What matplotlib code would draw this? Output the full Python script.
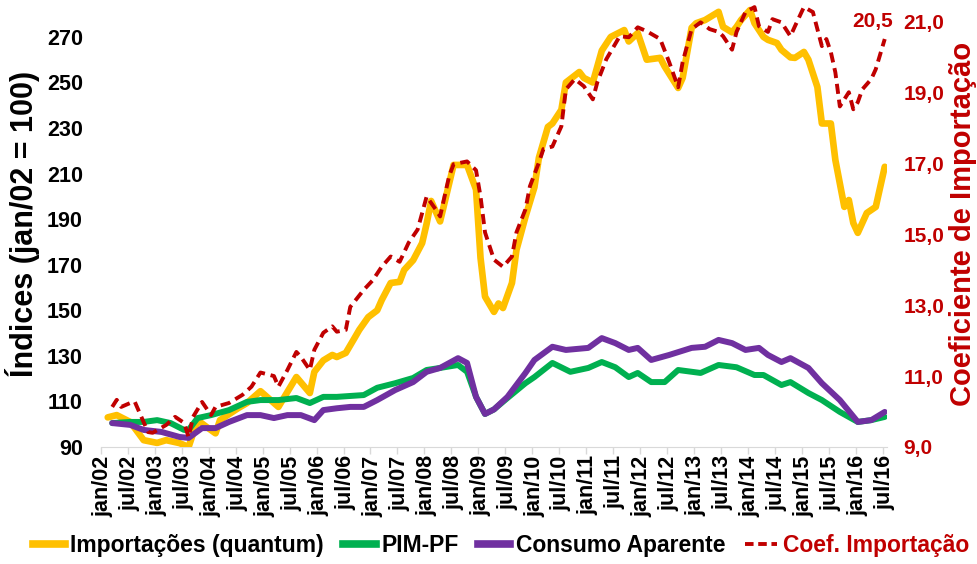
import matplotlib
matplotlib.use("Agg")
import matplotlib.pyplot as plt
from matplotlib.lines import Line2D
from matplotlib.ticker import FuncFormatter

plt.rcParams['font.family'] = ['Liberation Sans', 'DejaVu Sans']
plt.rcParams['font.weight'] = 'bold'
plt.rcParams['axes.labelweight'] = 'bold'

# month index: 0 = jan/02, 174 = jul/16
tick_labels = []
for y in range(2, 17):
    tick_labels.append(f"jan/{y:02d}")
    tick_labels.append(f"jul/{y:02d}")

imp_m = [1, 3, 6, 9, 12, 14, 17, 19, 21, 23, 25, 26, 30, 32, 35, 39, 43, 46, 47, 49,
         51, 52, 54, 56, 57, 59, 61, 62, 64, 66, 67, 69, 71, 72, 73, 75, 78, 81, 83, 84,
         85, 87, 88, 89, 91, 92, 94, 96, 97, 99, 100, 102, 103, 106, 107, 109, 111, 113, 116, 117,
         119, 121, 124, 125, 128, 129, 130, 131, 132, 134, 137, 138, 140, 141, 142, 144, 145, 147, 148, 150,
         151, 153, 154, 156, 157, 159, 160, 162, 163, 165, 166, 167, 168, 170, 172, 174]
imp_v = [103, 104, 101, 93, 91.8, 93, 91.7, 90, 101.8, 98.8, 96, 101.8, 107, 109.3, 114.5, 107.6, 120.7, 113.7, 123, 128,
         130.4, 129.5, 131.3, 138, 141.4, 147, 150, 154.5, 162, 162.5, 167.7, 172, 179.5, 188, 198, 189, 213.8, 213.8, 203, 173,
         156, 149.3, 153, 151, 162, 176.5, 191, 204, 217, 230.5, 232, 238, 250, 254.6, 252, 250, 264, 270, 273, 268,
         271.7, 260, 260.8, 257, 247.6, 252, 263, 274, 276, 277.4, 281, 274.4, 272, 274.4, 277.4, 281.8, 276, 270, 268.7, 267.3,
         264.3, 261, 260.8, 263.4, 260, 248, 232, 232, 216, 195.4, 198.4, 188.3, 184, 192.7, 195.4, 213]

pim_m = [2, 6, 9, 12, 15, 18, 19, 21, 24, 28, 32, 35, 39, 43, 46, 49, 52, 58, 61, 65,
         69, 72, 75, 79, 81, 83, 85, 87, 90, 94, 96, 100, 104, 108, 111, 114, 117, 119, 122, 125,
         128, 133, 137, 141, 145, 147, 151, 153, 157, 160, 164, 168, 171, 174]
pim_v = [100.5, 101, 101, 101.8, 100.5, 97.5, 97.5, 102.7, 104, 106.2, 109.8, 110.6, 110.6, 111.5, 109.3, 112, 112, 112.8, 116, 118,
         120.3, 123.8, 124.7, 126, 123, 112, 104.5, 106.5, 111.5, 118, 120.7, 126.9, 123, 124.7, 127.3, 125, 120.7, 122.5, 118.5, 118.5,
         123.8, 122.5, 126, 125, 121.6, 121.6, 117.2, 118.5, 113.7, 110.6, 105.4, 101, 101.8, 103.2]

cons_m = [2, 6, 9, 13, 17, 19, 22, 25, 28, 32, 35, 38, 41, 44, 47, 49, 52, 55, 58, 61,
          65, 69, 72, 75, 79, 81, 83, 85, 87, 90, 94, 96, 100, 103, 108, 111, 114, 117, 119, 122,
          126, 131, 134, 137, 140, 143, 146, 148, 151, 153, 157, 160, 164, 168, 171, 174]
cons_v = [100.5, 99.7, 97.5, 96.6, 94.4, 94, 98.3, 98.3, 101, 104, 104, 102.7, 104, 104, 101.8, 106.2, 107, 107.6, 107.6, 110.6,
          115, 118.5, 123, 124.7, 129, 126.9, 112, 104.5, 106.5, 112, 122.5, 128.2, 134, 132.6, 133.5, 137.8, 135.6, 132.6, 133.5, 128.2,
          130.4, 133.5, 134, 137, 135.6, 132.6, 133.5, 130.4, 127.3, 129, 124.7, 118, 110.6, 101, 101.8, 105.4]

coef_m = [2, 3, 4, 6, 7, 9, 10, 11, 14, 16, 18, 19, 20, 22, 24, 25, 28, 31, 33, 35,
          38, 39, 41, 43, 44, 46, 47, 49, 51, 52, 54, 55, 58, 60, 62, 64, 66, 68, 70, 72,
          74, 75, 77, 78, 81, 83, 84, 85, 87, 89, 91, 92, 94, 95, 97, 98, 100, 102, 103, 105,
          107, 109, 110, 112, 115, 117, 119, 121, 124, 126, 128, 129, 131, 133, 135, 137, 138, 140, 141, 143,
          145, 146, 148, 149, 151, 153, 154, 156, 158, 160, 161, 162, 163, 164, 166, 167, 168, 169, 171, 172, 174]
coef_v = [10.13, 10.33, 10.13, 10.24, 10.28, 9.7, 9.42, 9.4, 9.62, 9.85, 9.68, 9.28, 9.85, 10.27, 9.9, 10.13, 10.24, 10.47, 10.7, 11.1,
          11.0, 10.7, 11.17, 11.68, 11.54, 11.17, 11.74, 12.22, 12.4, 12.25, 12.3, 12.95, 13.43, 13.7, 14.08, 14.37, 14.22, 14.76, 15.13, 16.06,
          15.7, 15.5, 16.63, 16.97, 17.05, 16.8, 16.06, 15.05, 14.28, 14.08, 14.37, 15.05, 15.7, 16.35, 17.02, 17.4, 17.47, 18.04, 19.08, 19.37,
          19.17, 18.8, 19.28, 19.93, 20.58, 20.55, 20.83, 20.72, 20.5, 19.85, 19.14, 19.85, 20.78, 20.97, 20.78, 20.7, 20.58, 20.2, 20.7, 21.26,
          21.4, 20.86, 20.7, 21.06, 20.97, 20.58, 20.86, 21.4, 21.26, 20.3, 20.5, 20.13, 19.56, 18.6, 19.0, 18.52, 18.72, 19.08, 19.37, 19.65, 20.5]

ORANGE = '#FFC000'
GREEN = '#00B050'
PURPLE = '#7030A0'
RED = '#C00000'

fig = plt.figure(figsize=(9.78, 5.64), dpi=100)
ax = fig.add_axes([101 / 978, 117 / 564, 786 / 978, 447 / 564])
ax2 = ax.twinx()

ax.plot(imp_m, imp_v, color=ORANGE, lw=4.8, solid_joinstyle='round', solid_capstyle='round', zorder=3)
ax.plot(pim_m, pim_v, color=GREEN, lw=4.3, solid_joinstyle='round', solid_capstyle='round', zorder=4)
ax.plot(cons_m, cons_v, color=PURPLE, lw=4.3, solid_joinstyle='round', solid_capstyle='round', zorder=5)
ax2.plot(coef_m, coef_v, color=RED, lw=2.8, dashes=(2.6, 1.5), dash_capstyle='butt')

ax.set_xlim(-0.5, 174.5)
ax.set_ylim(90, 286.2)
ax2.set_ylim(9, 21.6)

ax.set_yticks(range(90, 271, 20))
ax2.set_yticks(range(9, 22, 2))
ax2.yaxis.set_major_formatter(FuncFormatter(lambda v, p: f"{v:.1f}".replace('.', ',')))

ax.set_xticks(range(0, 175, 6))
ax.set_xticklabels(tick_labels, rotation=90, fontsize=15.5)
ax.set_xticks([-0.5 + 6 * k for k in range(30)], minor=True)
ax.tick_params(axis='x', which='major', length=0, pad=6)
ax.tick_params(axis='x', which='minor', length=5, color='#D9D9D9', width=1)
ax.tick_params(axis='y', length=0, labelsize=15.5, pad=13)
ax2.tick_params(axis='y', length=0, labelsize=15, labelcolor=RED, pad=12)

for s in ['top', 'left', 'right']:
    ax.spines[s].set_visible(False)
    ax2.spines[s].set_visible(False)
ax.spines['bottom'].set_color('#D9D9D9')
ax2.spines['bottom'].set_visible(False)

ax.set_ylabel('Índices (jan/02 = 100)', fontsize=22, labelpad=5)
ax2.set_ylabel('Coeficiente de Importação', fontsize=21, color=RED, labelpad=3)

ax2.text(175.8, 20.98, '20,5', color=RED, fontsize=15, ha='right', va='center')

handles = [Line2D([], [], color=ORANGE, lw=5.5),
           Line2D([], [], color=GREEN, lw=5.5),
           Line2D([], [], color=PURPLE, lw=5.5),
           Line2D([], [], color=RED, lw=2.8, dashes=(2.2, 1.2))]
labels = ['Importações (quantum)', 'PIM-PF', 'Consumo Aparente', 'Coef. Importação']
leg = fig.legend(handles, labels, loc='lower center', bbox_to_anchor=(0.512, -0.025), ncol=4,
                 frameon=False, fontsize=16.5, handlelength=1.4, handletextpad=0.25, columnspacing=0.85)
leg.get_texts()[3].set_color(RED)

fig.savefig('out.png', dpi=100)
